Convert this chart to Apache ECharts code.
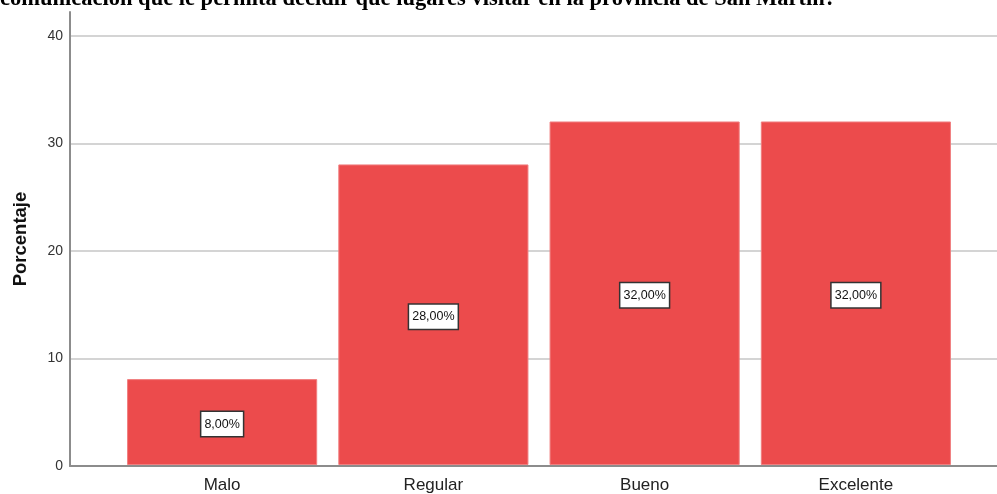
<!DOCTYPE html>
<html>
<head>
<meta charset="utf-8">
<script src="https://cdn.jsdelivr.net/npm/echarts@6/dist/echarts.min.js"></script>
<style>
  html, body { margin: 0; padding: 0; background: #fff; }
  #chart { width: 997px; height: 494px; }
</style>
</head>
<body>
<div id="chart"></div>
<script>
// datos
var categorias = ['Malo', 'Regular', 'Bueno', 'Excelente'];
var porcentajes = [8, 28, 32, 32];
var yTicks = [0, 10, 20, 30, 40];
var tituloTexto = 'comunicación que le permita decidir qué lugares visitar en la provincia de San Martín?';

var yMax = 42.2;
var rojo = '#ec4b4c';

var dom = echarts.init(document.getElementById('chart'));

var option = {
    backgroundColor: '#ffffff',
    animation: false,
    title: {
        text: tituloTexto,
        left: -5,
        top: -17,
        textStyle: {
            fontFamily: 'Liberation Serif',
            fontWeight: 'bold',
            fontSize: 22.5,
            color: '#000'
        }
    },
    grid: [
        // marco con eje y lineas
        { left: 70, right: 0, top: 12, bottom: 28 },
        // barras
        { left: 116.5, right: 35.5, top: 12, bottom: 28 }
    ],
    xAxis: [{
        gridIndex: 0,
        type: 'value',
        min: 0,
        max: 1,
        axisLine: { show: true, lineStyle: { color: '#8c8c8c', width: 2 } },
        axisTick: { show: false },
        axisLabel: { show: false },
        splitLine: { show: false }
    }, {
        gridIndex: 1,
        type: 'category',
        data: categorias,
        axisLine: { show: false },
        axisTick: { show: false },
        axisLabel: {
            margin: 12,
            fontFamily: 'Liberation Sans',
            fontSize: 17,
            color: '#222'
        }
    }],
    yAxis: [{
        gridIndex: 0,
        type: 'value',
        min: 0,
        max: yMax,
        interval: 10,
        name: 'Porcentaje',
        nameLocation: 'middle',
        nameGap: 40,
        nameTextStyle: {
            fontFamily: 'Liberation Sans',
            fontWeight: 'bold',
            fontSize: 18.5,
            color: '#111'
        },
        axisLine: { show: true, lineStyle: { color: '#8c8c8c', width: 2 } },
        axisTick: { show: false },
        axisLabel: {
            margin: 7,
            fontFamily: 'Liberation Sans',
            fontSize: 14,
            color: '#333',
            formatter: function (v) {
                return yTicks.indexOf(v) >= 0 ? String(v) : '';
            }
        },
        splitLine: {
            show: true,
            showMinLine: false,
            showMaxLine: false,
            lineStyle: { color: '#d4d4d4', width: 2 }
        }
    }, {
        gridIndex: 1,
        type: 'value',
        min: 0,
        max: yMax,
        show: false
    }],
    series: [{
        type: 'bar',
        xAxisIndex: 1,
        yAxisIndex: 1,
        data: porcentajes,
        barCategoryGap: '10%',
        itemStyle: {
            color: rojo,
            borderColor: '#f07e7f',
            borderWidth: 1
        },
        label: {
            show: true,
            position: 'inside',
            offset: [0, 2],
            formatter: function (p) {
                return p.value.toFixed(2).replace('.', ',') + '%';
            },
            fontFamily: 'Liberation Sans',
            fontSize: 12.5,
            color: '#111',
            backgroundColor: '#fff',
            borderColor: '#333',
            borderWidth: 1.5,
            padding: [6, 3, 5, 3]
        }
    }]
};

dom.setOption(option);
</script>
</body>
</html>
